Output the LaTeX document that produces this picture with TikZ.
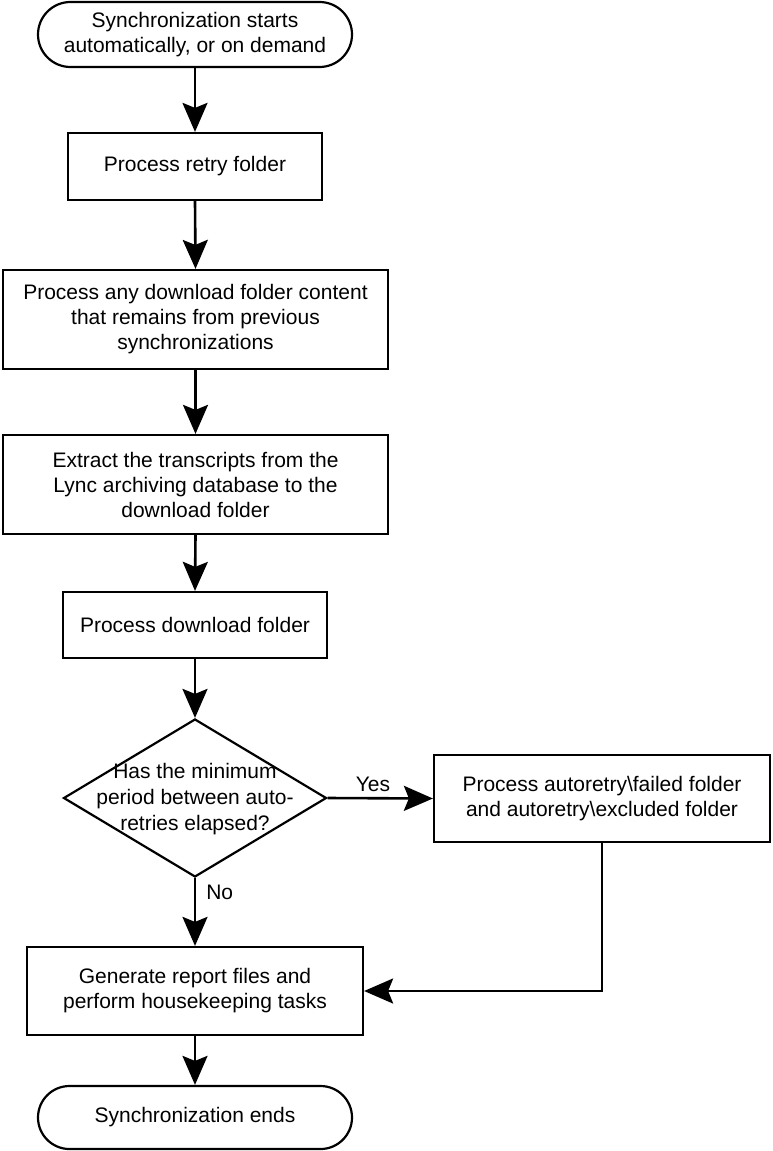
\documentclass[tikz,border=0pt]{standalone}
\usepackage{fontspec}
\setmainfont{Liberation Sans}
\usetikzlibrary{arrows.meta,shapes.geometric,shapes.misc}
\begin{document}
\begin{tikzpicture}[x=1pt,y=-1pt,
  txt/.style={font=\fontsize{21}{25}\selectfont},
  proc/.style={draw, line width=2.2pt, rectangle, inner sep=0pt, align=center, txt},
  term/.style={draw, line width=2.2pt, rounded rectangle, inner sep=0pt, align=center, txt},
  flow/.style={line width=2.6pt, -{Stealth[length=29pt,width=25pt,inset=5pt]}},
  lbl/.style={inner sep=0pt, txt}
]
\useasboundingbox (0,0) rectangle (772,1151);

\node[term, minimum width=314pt, minimum height=65pt] (start) at (195,34.5)
  {Synchronization starts\\automatically, or on demand};
\node[proc, minimum width=254pt, minimum height=67pt] (b1) at (195,166.5)
  {Process retry folder};
\node[proc, minimum width=385pt, minimum height=99pt] (b2) at (195.5,319.5)
  {Process any download folder content\\that remains from previous\\synchronizations};
\node[proc, minimum width=385pt, minimum height=99pt] (b3) at (195.5,484.5)
  {Extract the transcripts from the\\Lync archiving database to the\\download folder};
\node[proc, minimum width=264pt, minimum height=66pt] (b4) at (195,625)
  {Process download folder};
\node[draw, line width=2.2pt, diamond, minimum width=263pt, minimum height=158pt, inner sep=0pt] (dec) at (195,798) {};
\node[align=center, inner sep=0pt, font=\fontsize{21}{26}\selectfont] (dectext) at (195,799)
  {Has the minimum\\period between auto-\\retries elapsed?};
\node[proc, minimum width=336pt, minimum height=87pt] (rb) at (602,798.5)
  {Process autoretry\textbackslash failed folder\\and autoretry\textbackslash excluded folder};
\node[proc, minimum width=336pt, minimum height=88pt] (b5) at (195,991)
  {Generate report files and\\perform housekeeping tasks};
\node[term, minimum width=314pt, minimum height=63pt] (end) at (195,1117.5)
  {Synchronization ends};

\draw[flow] (start.south) -- (b1.north);
\draw[flow] (b1.south) -- (b2.north);
\draw[flow] (b2.south) -- (b3.north);
\draw[flow] (b3.south) -- (b4.north);
\draw[flow] (b4.south) -- (dec.north);
\draw[flow] (dec.east) -- node[lbl, pos=0.43, above=5pt] (yes) {Yes} (rb.west);
\draw[flow] (dec.south) -- node[lbl, pos=0.21, anchor=west, xshift=10pt] (no) {No} (b5.north);
\draw[flow] (rb.south) |- (b5.east);
\draw[flow] (b5.south) -- (end.north);
\end{tikzpicture}
\end{document}
